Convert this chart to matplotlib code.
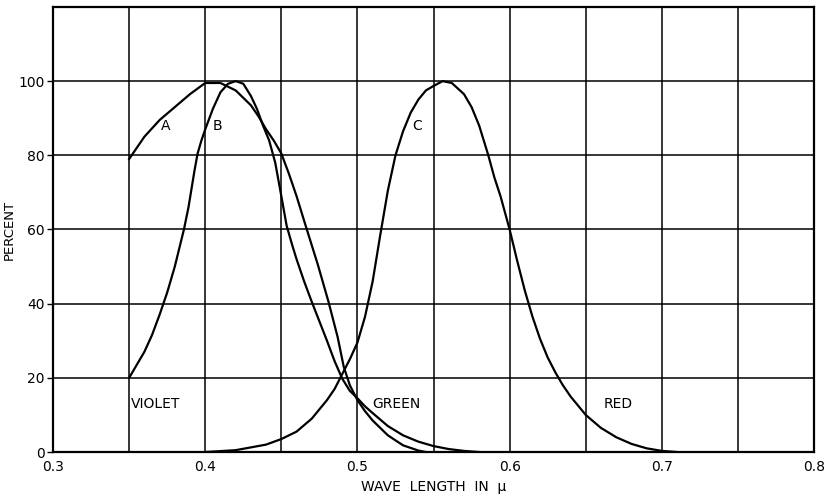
import matplotlib
matplotlib.use("Agg")
import matplotlib.pyplot as plt

# curve A
a_x = [0.35, 0.36, 0.37, 0.38, 0.39, 0.40, 0.41, 0.42, 0.43, 0.435, 0.44,
       0.445, 0.45, 0.455, 0.46, 0.466, 0.474, 0.481, 0.487, 0.491, 0.495,
       0.50, 0.505, 0.51, 0.52, 0.53, 0.54, 0.545]
a_y = [79, 85, 89.5, 93, 96.5, 99.5, 99.5, 97.5, 93.5, 90.5, 87,
       84, 80.5, 75, 69, 61, 50.5, 40.5, 31, 23, 18,
       14, 11, 8.5, 4.5, 1.8, 0.4, 0]

# curve B
b_x = [0.35, 0.355, 0.36, 0.365, 0.37, 0.375, 0.38, 0.386, 0.389, 0.391,
       0.393, 0.395, 0.3975, 0.40, 0.405, 0.41, 0.415, 0.42, 0.425, 0.43,
       0.434, 0.438, 0.442, 0.446, 0.45, 0.4535, 0.457, 0.46, 0.465, 0.47,
       0.48, 0.485, 0.49, 0.495, 0.50, 0.505, 0.51, 0.52, 0.53, 0.54, 0.55,
       0.56, 0.57, 0.58]
b_y = [20, 23.5, 27, 31.5, 37, 43, 50, 60, 66, 71,
       76, 80.5, 84, 87, 92.5, 97, 99.3, 100, 99.3, 96,
       92.5, 88, 84, 78, 69, 61, 56, 52, 46, 40.5,
       30, 24.5, 19.8, 16.5, 14.5, 12.3, 10.5, 7, 4.5, 2.8, 1.6,
       0.8, 0.3, 0]

# curve C
c_x = [0.40, 0.42, 0.44, 0.45, 0.46, 0.47, 0.48, 0.485, 0.49, 0.495, 0.50,
       0.505, 0.51, 0.515, 0.52, 0.525, 0.53, 0.535, 0.54, 0.545, 0.55,
       0.556, 0.562, 0.57, 0.575, 0.58, 0.586, 0.59, 0.594, 0.60, 0.605,
       0.61, 0.615, 0.62, 0.625, 0.63, 0.635, 0.64, 0.65, 0.66, 0.67, 0.68,
       0.69, 0.70, 0.71]
c_y = [0, 0.5, 2, 3.5, 5.5, 9, 14, 17, 21, 25, 29.5,
       36.5, 46, 58.5, 70.5, 80, 86.5, 91.5, 95, 97.5, 98.7,
       100, 99.5, 96.5, 93, 88, 80, 74, 69, 60, 51.5,
       43.5, 36.5, 30.5, 25.5, 21.5, 18, 15, 10, 6.5, 4, 2.2,
       1, 0.3, 0]

x_ticks = [0.3, 0.4, 0.5, 0.6, 0.7, 0.8]
x_ticklabels = ["0.3", "0.4", "0.5", "0.6", "0.7", "0.8"]
y_ticks = [0, 20, 40, 60, 80, 100]

curve_labels = [("A", 0.374, 88), ("B", 0.408, 88), ("C", 0.539, 88)]
band_labels = [("VIOLET", 0.351, 13), ("GREEN", 0.51, 13), ("RED", 0.662, 13)]

fig = plt.figure(figsize=(8.26, 4.97), dpi=100)
ax = fig.add_axes([0.0642, 0.0905, 0.9213, 0.8955])

# grid every 0.05 / 20
for gx in [0.35, 0.4, 0.45, 0.5, 0.55, 0.6, 0.65, 0.7, 0.75]:
    ax.axvline(gx, color="black", lw=1.1, zorder=1)
for gy in [20, 40, 60, 80, 100]:
    ax.axhline(gy, color="black", lw=1.1, zorder=1)

ax.plot(a_x, a_y, color="black", lw=1.6, zorder=3)
ax.plot(b_x, b_y, color="black", lw=1.6, zorder=3)
ax.plot(c_x, c_y, color="black", lw=1.6, zorder=3)

for txt, x, y in curve_labels:
    ax.text(x, y, txt, ha="center", va="center", fontsize=10)
for txt, x, y in band_labels:
    ax.text(x, y, txt, ha="left", va="center", fontsize=10)

ax.set_xlim(0.3, 0.8)
ax.set_ylim(0, 120)
ax.set_xticks(x_ticks)
ax.set_xticklabels(x_ticklabels, fontsize=10)
ax.set_yticks(y_ticks)
ax.set_yticklabels([str(v) for v in y_ticks], fontsize=10)
ax.tick_params(axis="x", length=0, pad=6)
ax.tick_params(axis="y", length=4, width=1, pad=2)
for s in ax.spines.values():
    s.set_linewidth(1.6)

ax.set_xlabel("WAVE  LENGTH  IN  \u03bc", fontsize=10, labelpad=4)
ax.set_ylabel("PERCENT", fontsize=9.5, labelpad=2)

fig.savefig("out.png", dpi=100)
